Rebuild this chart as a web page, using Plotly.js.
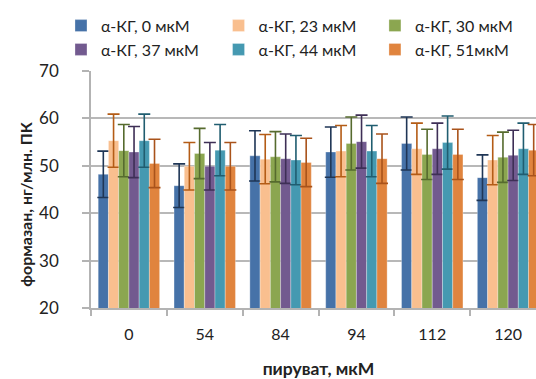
<!DOCTYPE html>
<html>
<head>
<meta charset="utf-8">
<script src="https://cdn.plot.ly/plotly-3.0.1.min.js"></script>
<style>
html,body{margin:0;padding:0;overflow:hidden;background:#fff;}
#chart{width:548px;height:379px;}
</style>
</head>
<body>
<div id="chart"></div>
<script>
var categories = ["0", "54", "84", "94", "112", "120"];
var seriesNames = ["α-КГ, 0 мкМ", "α-КГ, 23 мкМ", "α-КГ, 30 мкМ", "α-КГ, 37 мкМ", "α-КГ, 44 мкМ", "α-КГ, 51мкМ"];
var s0 = [48.2, 45.8, 52.1, 52.9, 54.7, 47.5];
var s1 = [55.3, 49.9, 51.4, 53.1, 53.6, 51.2];
var s2 = [53.2, 52.6, 51.9, 54.7, 52.4, 51.8];
var s3 = [52.9, 49.9, 51.5, 55.1, 53.6, 52.2];
var s4 = [55.3, 53.3, 51.2, 53.1, 54.9, 53.6];
var s5 = [50.5, 49.9, 50.7, 51.5, 52.4, 53.3];
var e0 = [4.9, 4.6, 5.3, 5.3, 5.6, 4.8];
var e1 = [5.6, 5.0, 5.2, 5.4, 5.4, 5.2];
var e2 = [5.5, 5.3, 5.3, 5.6, 5.3, 5.3];
var e3 = [5.4, 5.0, 5.2, 5.6, 5.4, 5.3];
var e4 = [5.6, 5.4, 5.2, 5.4, 5.6, 5.4];
var e5 = [5.1, 5.0, 5.1, 5.2, 5.3, 5.4];
var xTitle = "пируват, мкМ";
var yTitle = "формазан, нг/млн. ПК";

var values = [s0, s1, s2, s3, s4, s5];
var errors = [e0, e1, e2, e3, e4, e5];
var colors = ["#4672A8", "#F9BF8F", "#8BA650", "#725A8F", "#4599B1", "#E0843E"];
var errColors = ["#1F3656", "#B45C16", "#566B2E", "#3E2F56", "#205D70", "#A9531B"];
// legend columns (Excel lays the legend out in rows of three)
var legendIds = ["legend", "legend2", "legend3", "legend", "legend2", "legend3"];

var FONT = "Lato, 'Open Sans', sans-serif";
var traces = values.map(function(v, i){
  return {
    type: "bar",
    name: seriesNames[i],
    legend: legendIds[i],
    x: categories,
    y: v,
    marker: {color: colors[i], line: {color: "rgba(255,255,255,0.5)", width: 0.6}},
    error_y: {type: "data", array: errors[i], visible: true, color: errColors[i], thickness: 1.6, width: 6}
  };
});

function legendAt(xc) {
  return {
    orientation: "v", xref: "container", yref: "container",
    x: xc, y: 0.977, xanchor: "left", yanchor: "top",
    font: {family: FONT, size: 16, color: "#222"},
    itemwidth: 30, tracegroupgap: 0, traceorder: "normal",
    bgcolor: "rgba(0,0,0,0)"
  };
}

var layout = {
  width: 548, height: 379,
  margin: {l: 91, r: 2, t: 71, b: 71, autoexpand: false},
  paper_bgcolor: "#fff", plot_bgcolor: "#fff",
  barmode: "group", bargap: 0.19, bargroupgap: 0,
  font: {family: FONT, color: "#222", size: 16},
  showlegend: true,
  legend: legendAt(0.1113),
  legend2: legendAt(0.3988),
  legend3: legendAt(0.6842),
  xaxis: {
    type: "category",
    showline: true, linecolor: "#B3B3B3", linewidth: 1.5,
    ticks: "outside", tickson: "boundaries", ticklen: 6, tickcolor: "#B3B3B3", tickwidth: 1.5,
    tickfont: {family: FONT, size: 16, color: "#222"},
    ticklabelstandoff: 11,
    title: {text: "<b>" + xTitle + "</b>", font: {family: FONT, size: 17.5, color: "#222"}, standoff: 27},
    showgrid: false
  },
  yaxis: {
    range: [20, 70], dtick: 10, tick0: 20,
    showline: true, linecolor: "#B3B3B3", linewidth: 1.5,
    ticks: "outside", ticklen: 7, tickcolor: "#B3B3B3", tickwidth: 1.5,
    gridcolor: "#B8B8B8", gridwidth: 1.5,
    tickfont: {family: FONT, size: 17, color: "#222"},
    ticklabelstandoff: 20,
    zeroline: false
  },
  annotations: [{
    text: "<b>" + yTitle + "</b>", textangle: -90,
    xref: "paper", yref: "paper", x: -0.143, y: 0.44,
    xanchor: "center", yanchor: "middle", showarrow: false,
    font: {family: FONT, size: 16, color: "#222"}
  }]
};

Plotly.newPlot("chart", traces, layout, {displayModeBar: false, responsive: false});
</script>
</body>
</html>
